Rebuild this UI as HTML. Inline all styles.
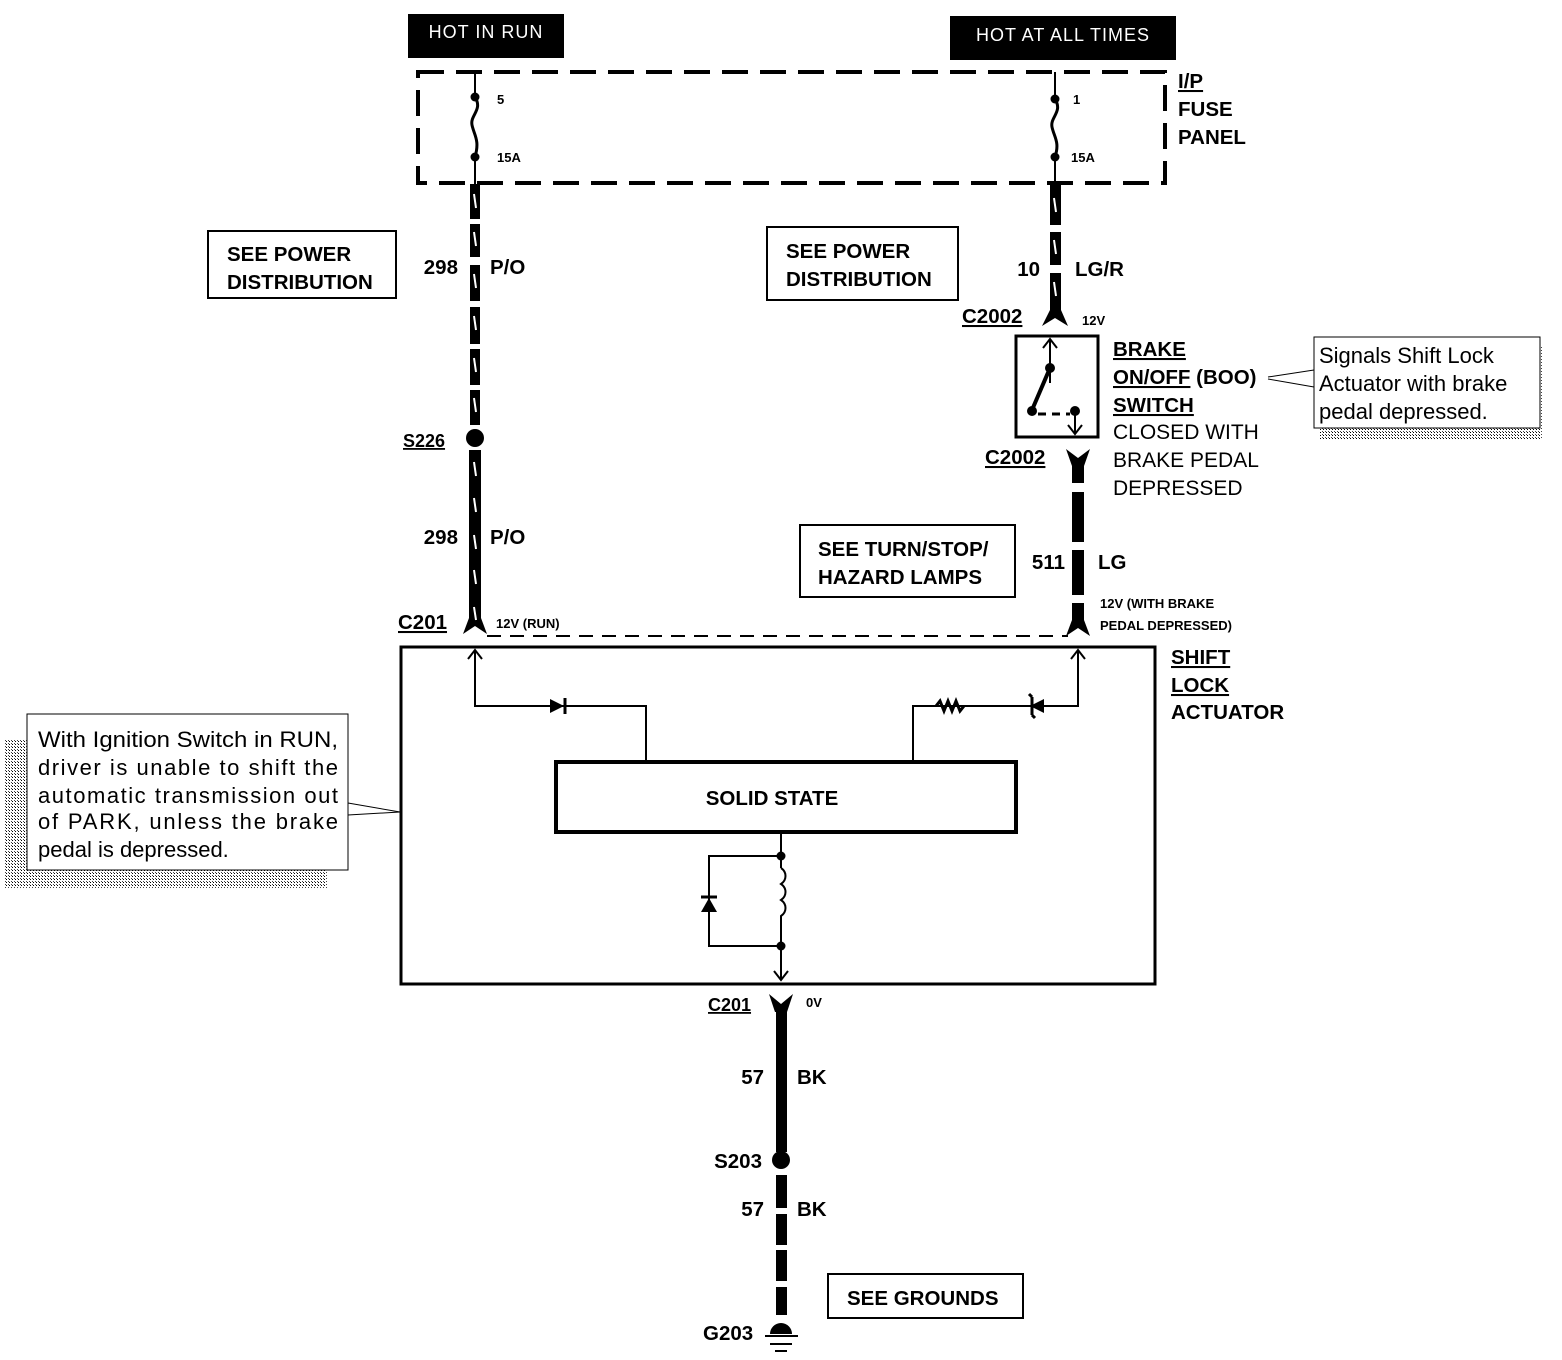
<!DOCTYPE html>
<html><head><meta charset="utf-8"><style>
html,body{margin:0;padding:0;background:#fff;}
svg{display:block;}
text{font-family:"Liberation Sans",Arial,sans-serif;fill:#000;}
.b{font-weight:bold;font-size:20.5px;}
.s{font-weight:bold;font-size:13px;}
.n{font-size:21px;}
.u{text-decoration:underline;}
</style></head><body>
<svg width="1562" height="1360" viewBox="0 0 1562 1360" xmlns="http://www.w3.org/2000/svg">
<defs>
<pattern id="dots" width="3" height="3" patternUnits="userSpaceOnUse">
<rect width="3" height="3" fill="#fff"/><rect width="1" height="1" fill="#000"/><rect x="2" y="2" width="1" height="1" fill="#444"/>
</pattern>
</defs>

<rect x="408" y="14" width="156" height="44" fill="#000"/>
<text x="486" y="38" text-anchor="middle" style="fill:#fff;font-size:18px;letter-spacing:1px">HOT IN RUN</text>
<rect x="950" y="16" width="226" height="44" fill="#000"/>
<text x="1063" y="41" text-anchor="middle" style="fill:#fff;font-size:18px;letter-spacing:1px">HOT AT ALL TIMES</text>

<rect x="418" y="72" width="747" height="111" fill="none" stroke="#000" stroke-width="4" stroke-dasharray="26,12"/>
<text x="1178" y="88" class="b u">I/P</text>
<text x="1178" y="116" class="b">FUSE</text>
<text x="1178" y="144" class="b">PANEL</text>

<line x1="475" y1="72" x2="475" y2="96" stroke="#000" stroke-width="2"/>
<circle cx="475" cy="97" r="4.5"/>
<path d="M475 97 C483 110 470 115 472 125 C474 135 480 140 475 157" fill="none" stroke="#000" stroke-width="3"/>
<circle cx="475" cy="157" r="4.5"/>
<line x1="475" y1="157" x2="475" y2="185" stroke="#000" stroke-width="2"/>
<text x="497" y="104" class="s">5</text>
<text x="497" y="162" class="s">15A</text>
<line x1="1055" y1="72" x2="1055" y2="96" stroke="#000" stroke-width="2"/>
<circle cx="1055" cy="99" r="4.5"/>
<path d="M1055 99 C1063 112 1050 117 1052 127 C1054 137 1060 142 1055 157" fill="none" stroke="#000" stroke-width="3"/>
<circle cx="1055" cy="157" r="4.5"/>
<line x1="1055" y1="157" x2="1055" y2="185" stroke="#000" stroke-width="2"/>
<text x="1073" y="104" class="s">1</text>
<text x="1071" y="162" class="s">15A</text>

<g fill="#000">
<rect x="470" y="184" width="10" height="35"/><rect x="470" y="224" width="10" height="33"/>
<rect x="470" y="265" width="10" height="36"/><rect x="470" y="307" width="10" height="37"/>
<rect x="470" y="349" width="10" height="36"/><rect x="470" y="390" width="10" height="35"/>
</g>
<g stroke="#fff" stroke-width="2">
<line x1="474" y1="194" x2="476" y2="208"/><line x1="474" y1="232" x2="476" y2="246"/>
<line x1="474" y1="274" x2="476" y2="288"/><line x1="474" y1="316" x2="476" y2="330"/>
<line x1="474" y1="358" x2="476" y2="372"/><line x1="474" y1="398" x2="476" y2="412"/>
</g>
<circle cx="475" cy="438" r="9"/>
<text x="403" y="447" class="b u" style="font-size:18px">S226</text>
<rect x="469" y="450" width="12" height="172" fill="#000"/>
<path d="M469 618 L463 634 L475 626 L487 634 L481 618 Z" fill="#000"/>
<g stroke="#fff" stroke-width="2">
<line x1="474" y1="462" x2="476" y2="476"/><line x1="474" y1="498" x2="476" y2="512"/>
<line x1="474" y1="535" x2="476" y2="549"/><line x1="474" y1="570" x2="476" y2="584"/>
<line x1="474" y1="607" x2="476" y2="620"/>
</g>
<text x="458" y="274" text-anchor="end" class="b">298</text><text x="490" y="274" class="b">P/O</text>
<text x="458" y="544" text-anchor="end" class="b">298</text><text x="490" y="544" class="b">P/O</text>
<text x="398" y="629" class="b u">C201</text>
<text x="496" y="628" class="s">12V (RUN)</text>

<rect x="208" y="231" width="188" height="67" fill="none" stroke="#000" stroke-width="2"/>
<text x="227" y="261" class="b">SEE POWER</text><text x="227" y="289" class="b">DISTRIBUTION</text>
<rect x="767" y="227" width="191" height="73" fill="none" stroke="#000" stroke-width="2"/>
<text x="786" y="258" class="b">SEE POWER</text><text x="786" y="286" class="b">DISTRIBUTION</text>

<g fill="#000">
<rect x="1050" y="184" width="11" height="41"/><rect x="1050" y="232" width="11" height="33"/>
<rect x="1050" y="273" width="11" height="40"/>
</g>
<path d="M1050 310 L1042 326 L1055 318 L1068 326 L1061 310 Z" fill="#000"/>
<g stroke="#fff" stroke-width="2">
<line x1="1054" y1="198" x2="1056" y2="212"/><line x1="1054" y1="240" x2="1056" y2="254"/>
<line x1="1054" y1="282" x2="1056" y2="296"/>
</g>
<text x="1040" y="276" text-anchor="end" class="b">10</text><text x="1075" y="276" class="b">LG/R</text>
<text x="962" y="323" class="b u">C2002</text>
<text x="1082" y="325" class="s">12V</text>

<rect x="1016" y="336" width="82" height="101" fill="none" stroke="#000" stroke-width="3"/>
<line x1="1050" y1="339" x2="1050" y2="383" stroke="#000" stroke-width="2"/>
<path d="M1043 348 L1050 339 L1057 348" fill="none" stroke="#000" stroke-width="2"/>
<circle cx="1050" cy="368" r="5"/>
<line x1="1050" y1="368" x2="1032" y2="410" stroke="#000" stroke-width="4"/>
<circle cx="1032" cy="411" r="5"/>
<line x1="1038" y1="414" x2="1070" y2="414" stroke="#000" stroke-width="3" stroke-dasharray="8,6"/>
<circle cx="1075" cy="411" r="5"/>
<line x1="1075" y1="411" x2="1075" y2="434" stroke="#000" stroke-width="2"/>
<path d="M1068 425 L1075 434 L1082 425" fill="none" stroke="#000" stroke-width="2"/>
<text x="1113" y="356" class="b u">BRAKE</text>
<text x="1113" y="384" class="b"><tspan class="u">ON/OFF</tspan> (BOO)</text>
<text x="1113" y="412" class="b u">SWITCH</text>
<text x="1113" y="439" class="n">CLOSED WITH</text>
<text x="1113" y="467" class="n">BRAKE PEDAL</text>
<text x="1113" y="495" class="n">DEPRESSED</text>
<text x="985" y="464" class="b u">C2002</text>
<path d="M1066 449 L1078 458 L1090 449 L1084 466 L1072 466 Z" fill="#000"/>
<g fill="#000">
<rect x="1072" y="464" width="12" height="19"/><rect x="1072" y="492" width="12" height="50"/>
<rect x="1072" y="550" width="12" height="45"/><rect x="1072" y="603" width="12" height="23"/>
</g>
<path d="M1072 620 L1066 636 L1078 628 L1090 636 L1084 620 Z" fill="#000"/>
<text x="1065" y="569" text-anchor="end" class="b">511</text><text x="1098" y="569" class="b">LG</text>
<text x="1100" y="608" class="s">12V (WITH BRAKE</text>
<text x="1100" y="630" class="s">PEDAL DEPRESSED)</text>
<rect x="800" y="525" width="215" height="72" fill="none" stroke="#000" stroke-width="2"/>
<text x="818" y="556" class="b">SEE TURN/STOP/</text><text x="818" y="584" class="b">HAZARD LAMPS</text>

<line x1="487" y1="636" x2="1068" y2="636" stroke="#000" stroke-width="2" stroke-dasharray="14,9"/>

<rect x="1320" y="345" width="222" height="95" fill="url(#dots)"/>
<rect x="1314" y="337" width="226" height="91" fill="#fff" stroke="#000" stroke-width="1"/>
<text x="1319" y="363" class="n" style="font-size:22px">Signals Shift Lock</text>
<text x="1319" y="391" class="n" style="font-size:22px">Actuator with brake</text>
<text x="1319" y="419" class="n" style="font-size:22px">pedal depressed.</text>
<line x1="1268" y1="377" x2="1314" y2="370" stroke="#000" stroke-width="1"/>
<line x1="1268" y1="379" x2="1314" y2="387" stroke="#000" stroke-width="1"/>

<rect x="5" y="740" width="322" height="148" fill="url(#dots)"/>
<rect x="27" y="714" width="321" height="156" fill="#fff" stroke="#000" stroke-width="1"/>
<g class="n" style="font-size:22px">
<text x="38" y="747" textLength="300" lengthAdjust="spacingAndGlyphs">With Ignition Switch in RUN,</text>
<text x="38" y="775" textLength="300">driver is unable to shift the</text>
<text x="38" y="803" textLength="300">automatic transmission out</text>
<text x="38" y="829" textLength="300">of PARK, unless the brake</text>
<text x="38" y="857">pedal is depressed.</text>
</g>
<line x1="348" y1="803" x2="400" y2="812" stroke="#000" stroke-width="1"/>
<line x1="348" y1="815" x2="400" y2="812" stroke="#000" stroke-width="1"/>

<rect x="401" y="647" width="754" height="337" fill="none" stroke="#000" stroke-width="3"/>
<text x="1171" y="664" class="b u">SHIFT</text>
<text x="1171" y="692" class="b u">LOCK</text>
<text x="1171" y="719" class="b">ACTUATOR</text>

<g fill="none" stroke="#000" stroke-width="2">
<polyline points="475,650 475,706 646,706 646,760"/>
<path d="M468 659 L475 650 L482 659"/>
<polyline points="1078,650 1078,706 913,706 913,760"/>
<path d="M1071 659 L1078 650 L1085 659"/>
<path d="M936 706 l4 -5 l4 10 l4 -10 l4 10 l4 -10 l4 10 l4 -5" stroke-width="3"/>
<path d="M781 856 H709 V946 H781"/>
<path d="M781 833 V868 M781 868 c6 4 6 12 0 16 c6 4 6 12 0 16 c6 4 6 12 0 16 V980" stroke-width="2"/>
<path d="M774 971 L781 980 L788 971"/>
</g>
<path d="M550 699 L564 706 L550 713 Z"/><line x1="565" y1="698" x2="565" y2="714" stroke="#000" stroke-width="3"/>
<path d="M1044 699 L1030 706 L1044 713 Z"/><path d="M1032 697 V715 M1032 697 l-3 -3 M1032 715 l3 3" stroke="#000" stroke-width="3" fill="none"/>
<path d="M701 912 L709 898 L717 912 Z"/><line x1="701" y1="897" x2="717" y2="897" stroke="#000" stroke-width="3"/>
<circle cx="781" cy="856" r="4.5"/><circle cx="781" cy="946" r="4.5"/>

<rect x="556" y="762" width="460" height="70" fill="#fff" stroke="#000" stroke-width="4"/>
<text x="772" y="805" text-anchor="middle" class="b">SOLID STATE</text>

<path d="M769 994 L781 1004 L793 994 L787 1012 L775 1012 Z" fill="#000"/>
<rect x="776" y="1004" width="11" height="148" fill="#000"/>
<circle cx="781" cy="1160" r="9"/>
<g fill="#000">
<rect x="776" y="1175" width="11" height="33"/><rect x="776" y="1214" width="11" height="31"/>
<rect x="776" y="1250" width="11" height="31"/><rect x="776" y="1287" width="11" height="28"/>
</g>
<text x="708" y="1011" class="b u" style="font-size:18px">C201</text>
<text x="806" y="1007" class="s">0V</text>
<text x="764" y="1084" text-anchor="end" class="b">57</text><text x="797" y="1084" class="b">BK</text>
<text x="762" y="1168" text-anchor="end" class="b">S203</text>
<text x="764" y="1216" text-anchor="end" class="b">57</text><text x="797" y="1216" class="b">BK</text>
<rect x="828" y="1274" width="195" height="44" fill="none" stroke="#000" stroke-width="2"/>
<text x="847" y="1305" class="b">SEE GROUNDS</text>
<text x="703" y="1340" class="b">G203</text>
<path d="M770 1334 A11 11 0 0 1 792 1334 Z" fill="#000"/>
<line x1="765" y1="1336" x2="798" y2="1336" stroke="#000" stroke-width="2"/>
<line x1="770" y1="1344" x2="792" y2="1344" stroke="#000" stroke-width="2"/>
<line x1="775" y1="1351" x2="787" y2="1351" stroke="#000" stroke-width="2"/>
</svg>
</body></html>
